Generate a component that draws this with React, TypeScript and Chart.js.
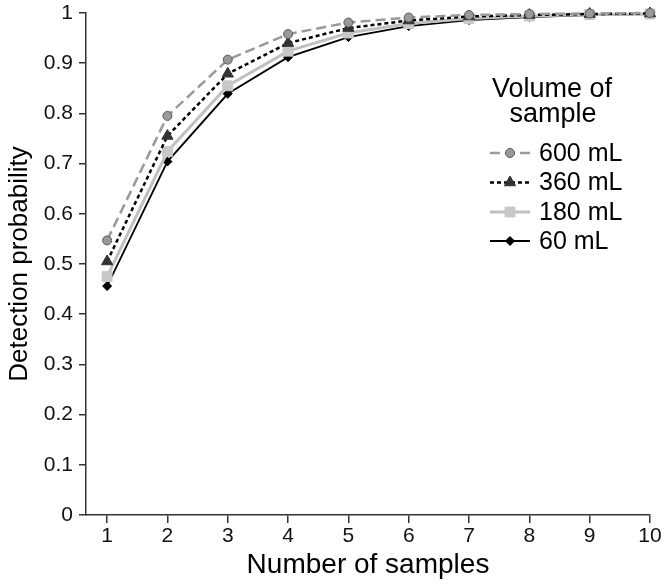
import React, { useEffect, useRef } from "react";
import { Chart, registerables } from "chart.js";

Chart.register(...registerables);

const xValues = [1, 2, 3, 4, 5, 6, 7, 8, 9, 10];
const xTickLabels = ["1", "2", "3", "4", "5", "6", "7", "8", "9", "10"];
const yTickLabels = ["0", "0.1", "0.2", "0.3", "0.4", "0.5", "0.6", "0.7", "0.8", "0.9", "1"];

const seriesNames = ["600 mL", "360 mL", "180 mL", "60 mL"];
const v600 = [0.547, 0.795, 0.907, 0.958, 0.981, 0.991, 0.996, 0.998, 0.999, 1.0];
const v360 = [0.505, 0.755, 0.879, 0.94, 0.97, 0.985, 0.993, 0.996, 0.998, 0.999];
const v180 = [0.475, 0.724, 0.855, 0.924, 0.96, 0.979, 0.989, 0.994, 0.997, 0.998];
const v60 = [0.456, 0.704, 0.839, 0.912, 0.952, 0.974, 0.986, 0.992, 0.996, 0.998];

const legendTitle = ["Volume of", "sample"];
const xTitle = "Number of samples";
const yTitle = "Detection probability";

const FONT = "'Liberation Sans', Arial, sans-serif";

type Style = {
  color: string;
  width: number;
  dash: number[];
  point: string;
  radius: number;
  fill: string;
  border: string;
};

const styles: Style[] = [
  { color: "#9a9a9a", width: 2.5, dash: [10, 5], point: "circle", radius: 4.5, fill: "#999999", border: "#5a5a5a" },
  { color: "#000000", width: 2.5, dash: [4, 3], point: "triangle", radius: 6.5, fill: "#333333", border: "#333333" },
  { color: "#c0c0c0", width: 3, dash: [], point: "rect", radius: 7, fill: "#c8c8c8", border: "#c8c8c8" },
  { color: "#000000", width: 1.8, dash: [], point: "rectRot", radius: 4.5, fill: "#000000", border: "#000000" },
];

function drawMarker(ctx: CanvasRenderingContext2D, s: Style, x: number, y: number) {
  ctx.save();
  ctx.setLineDash([]);
  ctx.fillStyle = s.fill;
  ctx.strokeStyle = s.border;
  ctx.lineWidth = 1;
  ctx.beginPath();
  const r = s.radius;
  if (s.point === "circle") {
    ctx.arc(x, y, r, 0, Math.PI * 2);
  } else if (s.point === "triangle") {
    ctx.moveTo(x, y - r);
    ctx.lineTo(x + r * 0.866, y + r * 0.5);
    ctx.lineTo(x - r * 0.866, y + r * 0.5);
    ctx.closePath();
  } else if (s.point === "rect") {
    const h = r * Math.SQRT1_2;
    ctx.rect(x - h, y - h, 2 * h, 2 * h);
  } else {
    ctx.moveTo(x - r, y);
    ctx.lineTo(x, y - r);
    ctx.lineTo(x + r, y);
    ctx.lineTo(x, y + r);
    ctx.closePath();
  }
  ctx.fill();
  ctx.stroke();
  ctx.restore();
}

const legendPlugin = {
  id: "customLegend",
  afterDraw(chart: any) {
    const ctx: CanvasRenderingContext2D = chart.ctx;
    ctx.save();
    ctx.fillStyle = "#000";
    ctx.textAlign = "center";
    ctx.textBaseline = "alphabetic";
    ctx.font = `27px ${FONT}`;
    ctx.fillText(legendTitle[0], 552, 97);
    ctx.fillText(legendTitle[1], 553, 122);
    const rows = [153, 182.5, 212, 241];
    ctx.font = `25px ${FONT}`;
    ctx.textAlign = "left";
    ctx.textBaseline = "middle";
    seriesNames.forEach((name, i) => {
      const s = styles[i];
      const y = rows[i];
      ctx.save();
      ctx.strokeStyle = s.color;
      ctx.lineWidth = s.width;
      ctx.setLineDash(s.dash);
      ctx.beginPath();
      ctx.moveTo(490, y);
      ctx.lineTo(530, y);
      ctx.stroke();
      ctx.restore();
      drawMarker(ctx, s, 510, y);
      ctx.fillStyle = "#000";
      ctx.fillText(name, 539, y + 1);
    });
    ctx.restore();
  },
};

export default function App() {
  const ref = useRef<HTMLCanvasElement | null>(null);
  useEffect(() => {
    if (!ref.current) return;
    const seriesValues = [v600, v360, v180, v60];
    const chart = new Chart(ref.current, {
      type: "line",
      data: {
        datasets: seriesValues.map((vals, i) => {
          const s = styles[i];
          return {
            label: seriesNames[i],
            data: xValues.map((x, j) => ({ x, y: vals[j] })),
            borderColor: s.color,
            borderWidth: s.width,
            borderDash: s.dash,
            pointStyle: s.point as any,
            pointRadius: s.radius,
            pointBackgroundColor: s.fill,
            pointBorderColor: s.border,
            pointBorderWidth: 1,
            tension: 0,
            fill: false,
            clip: false as any,
          };
        }),
      },
      options: {
        animation: false,
        responsive: true,
        maintainAspectRatio: false,
        layout: { padding: { left: 0, right: 17, top: 13, bottom: 2 } },
        plugins: {
          legend: { display: false },
          tooltip: { enabled: false },
        },
        scales: {
          x: {
            type: "linear",
            min: 0.65,
            max: 10,
            afterBuildTicks: (scale: any) => {
              scale.ticks = xValues.map((v) => ({ value: v }));
            },
            afterFit: (scale: any) => {
              scale.height = 67;
            },
            ticks: {
              color: "#111",
              font: { family: FONT, size: 21 },
              padding: 1,
              autoSkip: false,
              maxRotation: 0,
              callback: (value: any) => {
                const i = xValues.indexOf(Number(value));
                return i >= 0 ? xTickLabels[i] : "";
              },
            },
            grid: {
              drawOnChartArea: false,
              drawTicks: true,
              tickLength: 8,
              color: "#333",
              lineWidth: 1.5,
            },
            border: { display: true, color: "#333", width: 1.5 },
            title: {
              display: true,
              text: xTitle,
              color: "#000",
              font: { family: FONT, size: 28 },
              padding: { top: 0, bottom: 0 },
            },
          },
          y: {
            type: "linear",
            min: 0,
            max: 1,
            afterFit: (scale: any) => {
              scale.width = 86;
              scale.paddingTop = 0;
              scale.paddingBottom = 0;
            },
            ticks: {
              stepSize: 0.1,
              color: "#111",
              font: { family: FONT, size: 21 },
              padding: 6,
              callback: (value: any) => {
                const i = Math.round(Number(value) * 10);
                return yTickLabels[i] ?? "";
              },
            },
            grid: {
              drawOnChartArea: false,
              drawTicks: true,
              tickLength: 7,
              color: "#333",
              lineWidth: 1.5,
            },
            border: { display: true, color: "#333", width: 1.5 },
            title: {
              display: true,
              text: yTitle,
              color: "#000",
              font: { family: FONT, size: 26 },
              padding: { top: 4, bottom: 0 },
            },
          },
        },
      },
      plugins: [legendPlugin],
    });
    return () => chart.destroy();
  }, []);
  return (
    <div style={{ position: "fixed", left: 0, top: 0, width: 667, height: 584, background: "#fff" }}>
      <canvas ref={ref} />
    </div>
  );
}
